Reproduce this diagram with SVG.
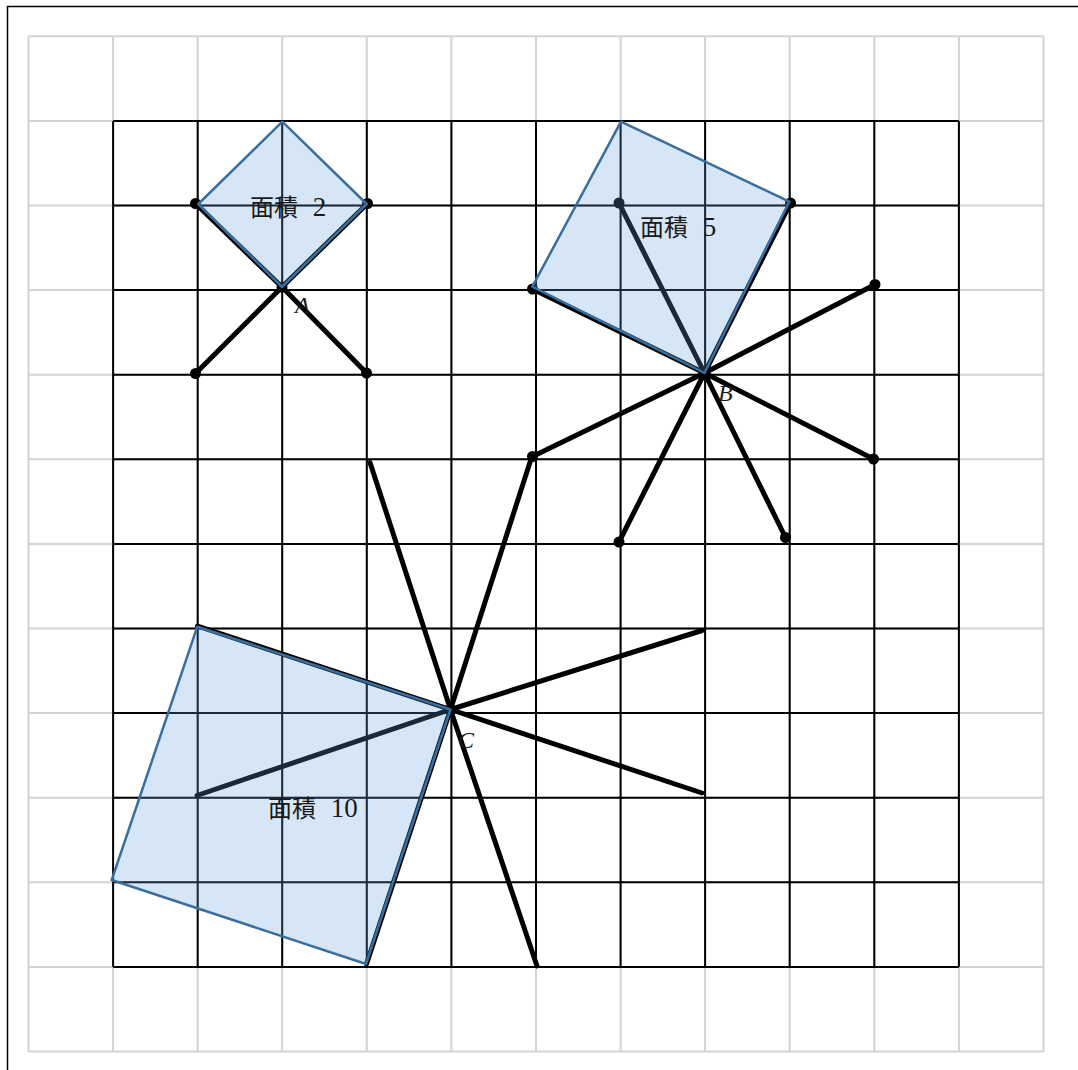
<svg xmlns="http://www.w3.org/2000/svg" width="1078" height="1070" viewBox="0 0 1078 1070">
<style>
.lg{stroke:#d4d4d4;stroke-width:2;fill:none}
.bg{stroke:#000;stroke-width:2;fill:none}
.th{stroke:#000;stroke-width:5;stroke-linecap:round;fill:none}
.dot{fill:#000}
.sq{fill:#5fa0dc;fill-opacity:0.26;stroke:#3a6e9e;stroke-width:2.5;stroke-linejoin:round}
.lab{font-family:"Liberation Serif","Noto Sans CJK JP",serif;font-size:24px;fill:#1a1a1a;word-spacing:8px}
.num{font-size:27px}
.pt{font-family:"Liberation Serif",serif;font-style:italic;font-size:24px;fill:#1a1a1a}
</style>
<rect x="0" y="0" width="1078" height="1070" fill="#fff"/>
<rect x="7.5" y="6.5" width="1080" height="1080" fill="none" stroke="#000" stroke-width="1.5"/>
<g id="grid-light" class="lg">
<path d="M28.5 36.3V1051.5M113.1 36.3V1051.5M197.7 36.3V1051.5M282.2 36.3V1051.5M366.8 36.3V1051.5M451.4 36.3V1051.5M536 36.3V1051.5M620.6 36.3V1051.5M705.1 36.3V1051.5M789.7 36.3V1051.5M874.3 36.3V1051.5M958.9 36.3V1051.5M1043.5 36.3V1051.5"/>
<path d="M28.5 36.3H1043.5M28.5 120.9H1043.5M28.5 205.5H1043.5M28.5 290.1H1043.5M28.5 374.7H1043.5M28.5 459.3H1043.5M28.5 543.9H1043.5M28.5 628.5H1043.5M28.5 713.1H1043.5M28.5 797.7H1043.5M28.5 882.3H1043.5M28.5 966.9H1043.5M28.5 1051.5H1043.5"/>
</g>
<g id="grid-dark" class="bg">
<path d="M113.1 120.9V966.9M197.7 120.9V966.9M282.2 120.9V966.9M366.8 120.9V966.9M451.4 120.9V966.9M536 120.9V966.9M620.6 120.9V966.9M705.1 120.9V966.9M789.7 120.9V966.9M874.3 120.9V966.9M958.9 120.9V966.9"/>
<path d="M113.1 120.9H958.9M113.1 205.5H958.9M113.1 290.1H958.9M113.1 374.7H958.9M113.1 459.3H958.9M113.1 543.9H958.9M113.1 628.5H958.9M113.1 713.1H958.9M113.1 797.7H958.9M113.1 882.3H958.9M113.1 966.9H958.9"/>
</g>
<g id="connectors" class="th">
<path d="M282 287L195.5 203.5M282 287L367.5 203.5M282 287L195.5 373.5M282 287L366.5 373"/>
<path d="M704.5 373L619 203M704.5 373L790.5 203M704.5 373L532.5 289M704.5 373L875 284.5M704.5 373L532.5 456.5M704.5 373L873.5 459M704.5 373L619 542M704.5 373L785.5 537.5"/>
<path d="M450.5 709.5L370 462.5M450.5 709.5L532 456M450.5 709.5L702 630.5M450.5 709.5L702 793M450.5 709.5L537 966M450.5 709.5L197.5 626M450.5 709.5L197 795.5M450.5 709.5L366.5 964"/>
</g>
<g id="dots" class="dot">
<circle cx="195.5" cy="203.5" r="5.5"/><circle cx="367.5" cy="203.5" r="5.5"/><circle cx="195.5" cy="373.5" r="5.5"/><circle cx="366.5" cy="373" r="5.5"/><circle cx="282" cy="287" r="5.5"/>
<circle cx="619" cy="203" r="5.5"/><circle cx="790.5" cy="203" r="5.5"/><circle cx="532.5" cy="289" r="5.5"/><circle cx="875" cy="284.5" r="5.5"/><circle cx="532.5" cy="456.5" r="5.5"/><circle cx="873.5" cy="459" r="5.5"/><circle cx="619" cy="542" r="5.5"/><circle cx="785.5" cy="537.5" r="5.5"/>
</g>
<g id="square-A">
<polygon class="sq" points="282.3,121.7 366.7,204 282,287 198.3,204"/>
<text class="lab" x="250" y="216">面積<tspan class="num"> 2</tspan></text>
<text class="pt" x="295" y="313">A</text>
</g>
<g id="square-B">
<polygon class="sq" points="621,121.7 789.3,201.7 704.5,373 532.3,286.7"/>
<text class="lab" x="640" y="236">面積<tspan class="num"> 5</tspan></text>
<text class="pt" x="718" y="401">B</text>
</g>
<g id="square-C">
<polygon class="sq" points="197.3,626.7 450.5,709.5 366,964 111.7,880"/>
<text class="lab" x="268" y="817">面積<tspan class="num"> 10</tspan></text>
<text class="pt" x="458" y="748">C</text>
</g>
</svg>
